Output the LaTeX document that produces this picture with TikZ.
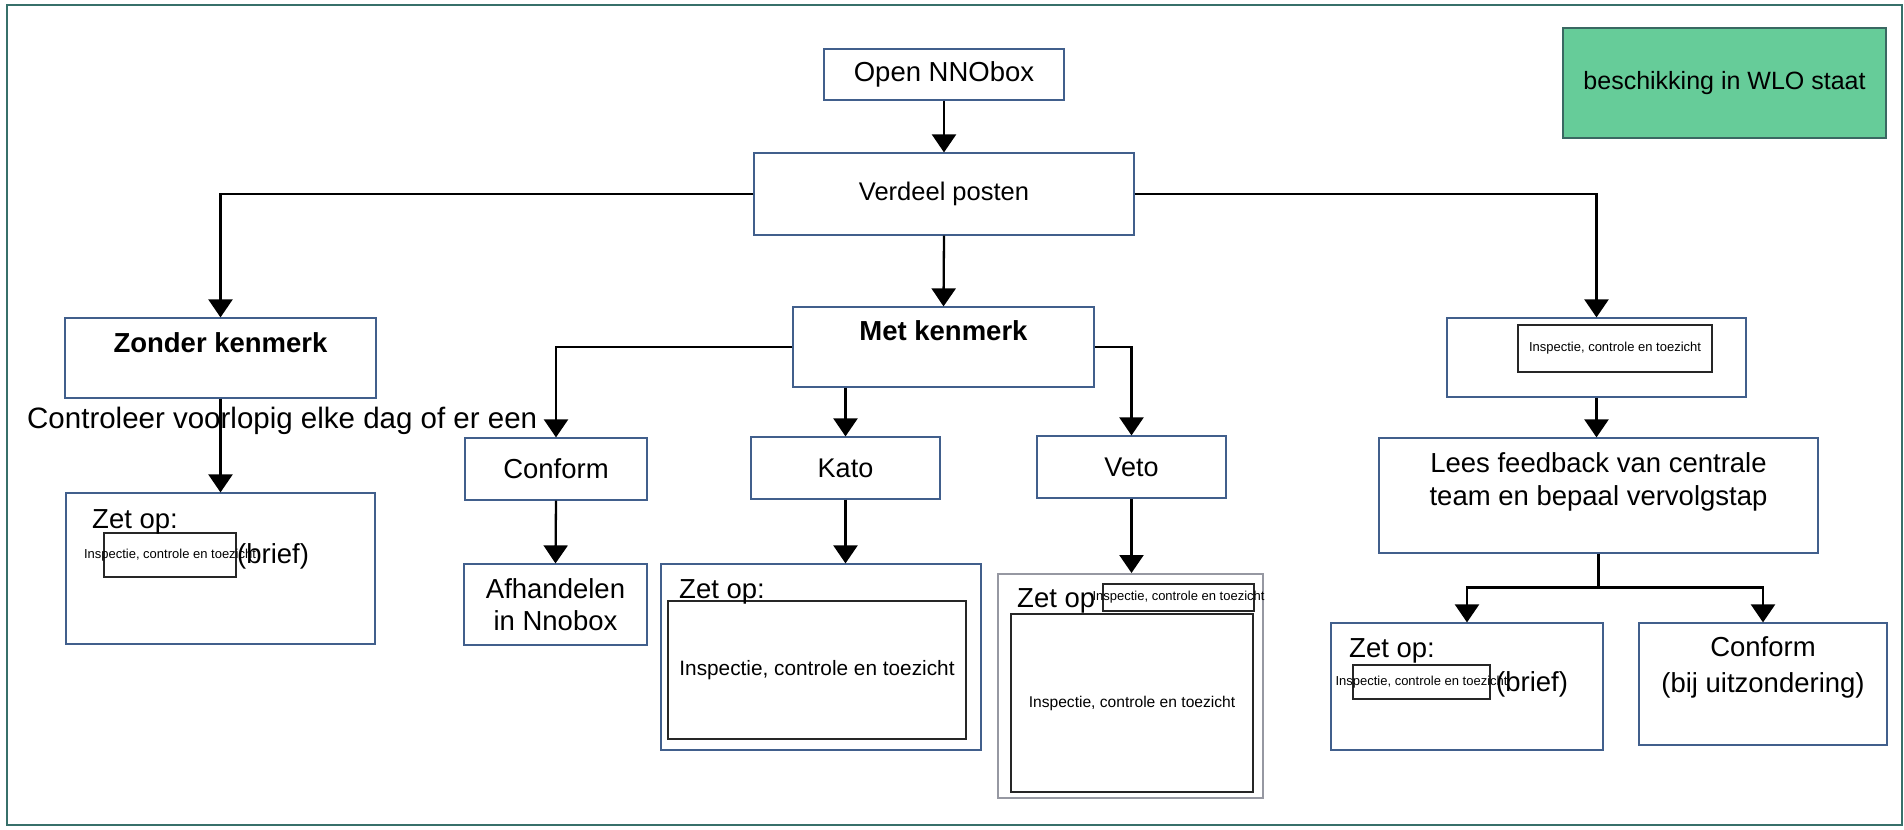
\documentclass[tikz,border=0pt]{standalone}
\usepackage{fontspec}
\setmainfont{Liberation Sans}
\usetikzlibrary{arrows.meta,positioning}

\definecolor{boxline}{RGB}{65,95,140}
\definecolor{frameline}{RGB}{55,112,106}
\definecolor{wlogreen}{RGB}{102,204,153}
\definecolor{wloline}{RGB}{58,104,98}
\definecolor{vetoline}{RGB}{150,152,162}

\newcommand{\mainsize}{\fontsize{27.5}{33}\selectfont}
\newcommand{\smallict}{\fontsize{13}{15}\selectfont}

\tikzset{
  box/.style={draw=boxline, line width=1.2pt, inner sep=0pt, font=\mainsize, align=center},
  innerbox/.style={draw=black!85, line width=1.3pt, inner sep=0pt},
  txt/.style={inner sep=0pt, font=\mainsize, align=center},
  arr/.style={-{Triangle[width=24pt,length=18pt]}, line width=2.3pt},
  elbow/.style={to path={-| (\tikztotarget)}}
}

\begin{document}
\begin{tikzpicture}[x=1pt, y=-1pt]
            \useasboundingbox (0,0) rectangle (1904,830);
            \draw[frameline, line width=2.5pt] (7,5) rectangle (1902,825);

            \begin{scope}[every node/.style={box}]
                \node[minimum width=240pt, minimum height=51pt] (open) at (944,74.5) {Open NNObox};
                \node[minimum width=380pt, minimum height=82pt, font=\fontsize{25.5}{30}\selectfont] (verdeel) at (944,194) {Verdeel posten};
                \node[minimum width=323pt, minimum height=110pt, fill=wlogreen, draw=wloline, font=\fontsize{25}{30}\selectfont] (wlo) at (1724.5,83) {beschikking in WLO staat};

                \node[minimum width=311pt, minimum height=80pt] (zonder) at (220.5,358) {};
                \node[minimum width=301pt, minimum height=80pt] (met) at (943.5,347) {};
                \node[minimum width=299pt, minimum height=79pt] (ict) at (1596.5,357.5) {};
                \node[innerbox, minimum width=194pt, minimum height=47pt] (ictin) at (1615,348.5) {\smallict Inspectie, controle en toezicht};

                \node[minimum width=309pt, minimum height=151pt] (zet1) at (220.5,568.5) {};
                \node[innerbox, minimum width=132pt, minimum height=44pt] (sb1) at (170,555) {\makebox[0pt]{\smallict Inspectie, controle en toezicht}};

                \node[minimum width=182pt, minimum height=62pt] (conform) at (556,469) {Conform};
                \node[minimum width=183pt, minimum height=81pt, font=\fontsize{27.5}{32}\selectfont] (afh) at (555.5,604.5) {Afhandelen\\in Nnobox};

                \node[minimum width=189pt, minimum height=62pt, font=\fontsize{27}{32}\selectfont] (kato) at (845.5,468) {Kato};
                \node[minimum width=320pt, minimum height=186pt] (zetkato) at (821,657) {};
                \node[innerbox, minimum width=298pt, minimum height=138pt, font=\fontsize{20.8}{25}\selectfont] (katoin) at (817,670) {Inspectie, controle en toezicht};

                \node[minimum width=189pt, minimum height=62pt, font=\fontsize{27}{32}\selectfont] (veto) at (1131.5,467) {Veto};
                \node[minimum width=265pt, minimum height=224pt, draw=vetoline, line width=2pt] (zetveto) at (1130,686) {};
                \node[innerbox, minimum width=242pt, minimum height=178pt, font=\fontsize{15.6}{19}\selectfont] (vetoin) at (1132,703) {Inspectie, controle en toezicht};
                \node[innerbox, minimum width=151pt, minimum height=27pt] (sbveto) at (1178.5,597.5) {\makebox[0pt]{\smallict Inspectie, controle en toezicht}};

                \node[minimum width=439pt, minimum height=115pt] (lees) at (1598.5,495.5) {};
                \node[minimum width=272pt, minimum height=127pt] (brief) at (1467,686.5) {};
                \node[innerbox, minimum width=137pt, minimum height=34pt] (sb2) at (1421.5,682) {\makebox[0pt]{\smallict Inspectie, controle en toezicht}};
                \node[minimum width=248pt, minimum height=122pt] (conformbij) at (1763,684) {};
            \end{scope}

            \begin{scope}[every node/.style={txt}]
                \node[anchor=base west, font=\fontsize{29.5}{34}\selectfont] (controle) at (27,428) {Controleer voorlopig elke dag of er een};
                \node[anchor=base, font=\mainsize\bfseries] (zondertxt) at (220.5,352) {Zonder kenmerk};
                \node[anchor=base, font=\mainsize\bfseries] (mettxt) at (943.5,340) {Met kenmerk};
                \node[anchor=base west] (zet1txt) at (92,528) {Zet op:};
                \node[anchor=base west] (brief1txt) at (237,563) {(brief)};
                \node[anchor=base west] (zetkatotxt) at (679,598) {Zet op:};
                \node[anchor=base west] (zetvetotxt) at (1017,607) {Zet op};
                \node (leestxt) at (1598.5,482) {Lees feedback van centrale\\team en bepaal vervolgstap};
                \node[anchor=base west] (zet2txt) at (1349,657) {Zet op:};
                \node[anchor=base west] (brief2txt) at (1496,691) {(brief)};
                \node[font=\fontsize{27.5}{36}\selectfont] (conformbijtxt) at (1763,667.5) {Conform\\(bij uitzondering)};
            \end{scope}

            \coordinate[below=34pt of lees.south] (split);

            \begin{scope}[every edge/.style={draw, arr}]
                \path (open.south) edge (verdeel.north);
                \path (verdeel.south) edge (met.north);
                \path (verdeel.west) edge[elbow] (zonder.north);
                \path (verdeel.east) edge[elbow] (ict.north);

                \path (zonder.south) edge (zet1.north);
                \path (met.west) edge[elbow] (conform.north);
                \path (met.south -| kato.north) edge (kato.north);
                \path (met.east) edge[elbow] (veto.north);

                \path (conform.south) edge (afh.north);
                \path (kato.south) edge (kato.south |- zetkato.north);
                \path (veto.south) edge (veto.south |- zetveto.north);

                \path (ict.south) edge (ict.south |- lees.north);
                \path (lees.south) edge[-] (split);
                \path (split) edge[elbow] (brief.north);
                \path (split) edge[elbow] (conformbij.north);
            \end{scope}
\end{tikzpicture}
\end{document}
